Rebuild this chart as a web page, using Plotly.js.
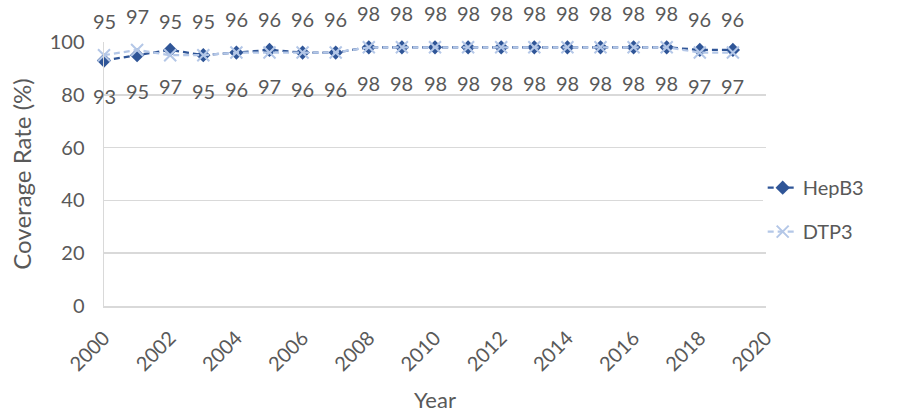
<!DOCTYPE html>
<html>
<head>
<meta charset="utf-8">
<script src="https://cdn.plot.ly/plotly-3.0.1.min.js"></script>
<style>html,body{margin:0;padding:0;background:#fff;}#chart{width:908px;height:413px;}</style>
</head>
<body>
<div id="chart"></div>
<script>
var years = [2000,2001,2002,2003,2004,2005,2006,2007,2008,2009,2010,2011,2012,2013,2014,2015,2016,2017,2018,2019];
var hepB3 = [93,95,97,95,96,97,96,96,98,98,98,98,98,98,98,98,98,98,97,97];
var dtp3  = [95,97,95,95,96,96,96,96,98,98,98,98,98,98,98,98,98,98,96,96];
var xTicks = [2000,2002,2004,2006,2008,2010,2012,2014,2016,2018,2020];
var yTicks = [0,20,40,60,80,100];

var FONT = 'Lato, "Open Sans", sans-serif';
var TXT = '#595959';

var traces = [
  {x: years, y: hepB3, name: 'HepB3', legendgroup: 'a', type: 'scatter', mode: 'lines+markers', cliponaxis: false,
   line: {color: '#2F5597', width: 2.25, dash: '6px,4px'},
   marker: {symbol: 'diamond', size: 11, color: '#2F5597'}},
  {x: years, y: dtp3, name: 'DTP3', legendgroup: 'b', type: 'scatter', mode: 'lines+markers', cliponaxis: false,
   line: {color: '#B4C7E7', width: 2.25, dash: '6px,4px'},
   marker: {symbol: 'x-thin', size: 12, color: '#B4C7E7', line: {color: '#B4C7E7', width: 2}}}
];

var annotations = [];
years.forEach(function(yr, i){
  annotations.push({x: yr, y: hepB3[i], text: String(hepB3[i]), showarrow: false, yshift: -36,
    font: {family: FONT, size: 20, color: TXT}});
  annotations.push({x: yr, y: dtp3[i], text: String(dtp3[i]), showarrow: false, yshift: 34,
    font: {family: FONT, size: 20, color: TXT}});
});

var layout = {
  width: 908, height: 413,
  margin: {l: 104, r: 142, t: 42, b: 107},
  paper_bgcolor: '#fff', plot_bgcolor: '#fff',
  font: {family: FONT, size: 20, color: TXT},
  showlegend: true,
  legend: {x: 0.995, y: 0.365, yanchor: 'middle', xanchor: 'left', traceorder: 'grouped', tracegroupgap: 15,
           font: {family: FONT, size: 20, color: TXT}},
  xaxis: {range: [2000, 2020], tickmode: 'array', tickvals: xTicks, ticktext: xTicks.map(String),
          tickangle: -45, showgrid: false, zeroline: false, showline: true, linecolor: '#d9d9d9', linewidth: 1.5,
          ticks: 'outside', ticklen: 11, tickcolor: 'rgba(0,0,0,0)', tickfont: {family: FONT, size: 20, color: TXT},
          title: {text: 'Year', font: {family: FONT, size: 22, color: TXT}, standoff: 19}},
  yaxis: {range: [0, 100], tickmode: 'array', tickvals: yTicks, ticktext: yTicks.map(String),
          showgrid: true, gridcolor: '#d9d9d9', gridwidth: 1.5, zeroline: false,
          showline: true, linecolor: '#d9d9d9', linewidth: 1.5,
          ticks: 'outside', ticklen: 14, tickcolor: 'rgba(0,0,0,0)',
          tickfont: {family: FONT, size: 20, color: TXT},
          title: {text: 'Coverage Rate (%)', font: {family: FONT, size: 24, color: TXT}, standoff: 11}},
  annotations: annotations
};

Plotly.newPlot('chart', traces, layout, {displayModeBar: false, staticPlot: true});
</script>
</body>
</html>
